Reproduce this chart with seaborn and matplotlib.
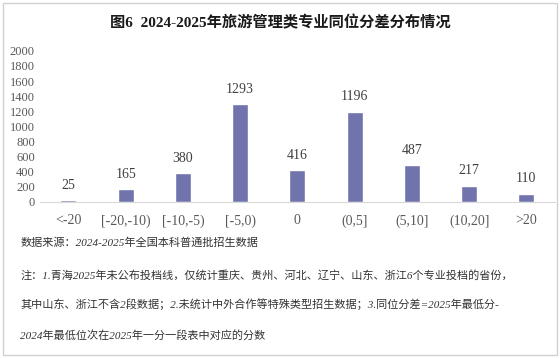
import seaborn as sns
import matplotlib.pyplot as plt
import pandas as pd
from matplotlib.patches import Rectangle

categories = ["<-20", "[-20,-10)", "[-10,-5)", "[-5,0)", "0", "(0,5]", "(5,10]", "(10,20]", ">20"]
counts = [25, 165, 380, 1293, 416, 1196, 487, 217, 110]
yticks = list(range(0, 2001, 200))

title = "图6  2024-2025年旅游管理类专业同位分差分布情况"
notes = [
    "数据来源：2024-2025年全国本科普通批招生数据",
    "注：1.青海2025年未公布投档线，仅统计重庆、贵州、河北、辽宁、山东、浙江6个专业投档的省份，",
    "其中山东、浙江不含2段数据；2.未统计中外合作等特殊类型招生数据；3.同位分差=2025年最低分-",
    "2024年最低位次在2025年一分一段表中对应的分数",
]

df = pd.DataFrame({"range": categories, "count": counts})

sns.set_style("white")
plt.rcParams["font.family"] = ["Liberation Serif", "Noto Sans CJK SC", "DejaVu Sans"]

fig = plt.figure(figsize=(5.6, 3.58), dpi=100)
fig.patches.append(Rectangle((0.005, 0.008), 0.99, 0.985, transform=fig.transFigure,
                             fill=False, edgecolor="#d0d0d0", linewidth=1))
ax = fig.add_axes([0.071, 0.436, 0.92, 0.422])

sns.barplot(data=df, x="range", y="count", color="#7173ad", width=0.28, saturation=1, ax=ax)
for c, v in zip(ax.containers[0], counts):
    ax.annotate(str(v), (c.get_x() + c.get_width() / 2, v), xytext=(0, 6),
                textcoords="offset points", ha="center", va="bottom",
                fontsize=10, color="#404040")

ax.set_ylim(0, 2000)
ax.set_yticks(yticks)
ax.set_xlabel("")
ax.set_ylabel("")
ax.tick_params(axis="both", length=0, labelsize=9, colors="#595959")
ax.tick_params(axis="x", pad=9, labelsize=10)
for s in ["top", "right", "left"]:
    ax.spines[s].set_visible(False)
ax.spines["bottom"].set_color("#d9d9d9")

fig.text(0.5, 0.938, title, ha="center", va="center", fontsize=11, fontweight="bold",
         family=["Liberation Serif", "Noto Sans CJK SC"], color="#1a1a1a")

ys = [243, 275, 304, 335]
for t, y in zip(notes, ys):
    fig.text(0.036, 1 - y / 358, t, ha="left", va="center", fontsize=8, style="italic",
             family=["Liberation Serif", "Noto Sans CJK SC"], color="#333333")

fig.savefig("out.png", dpi=100)
